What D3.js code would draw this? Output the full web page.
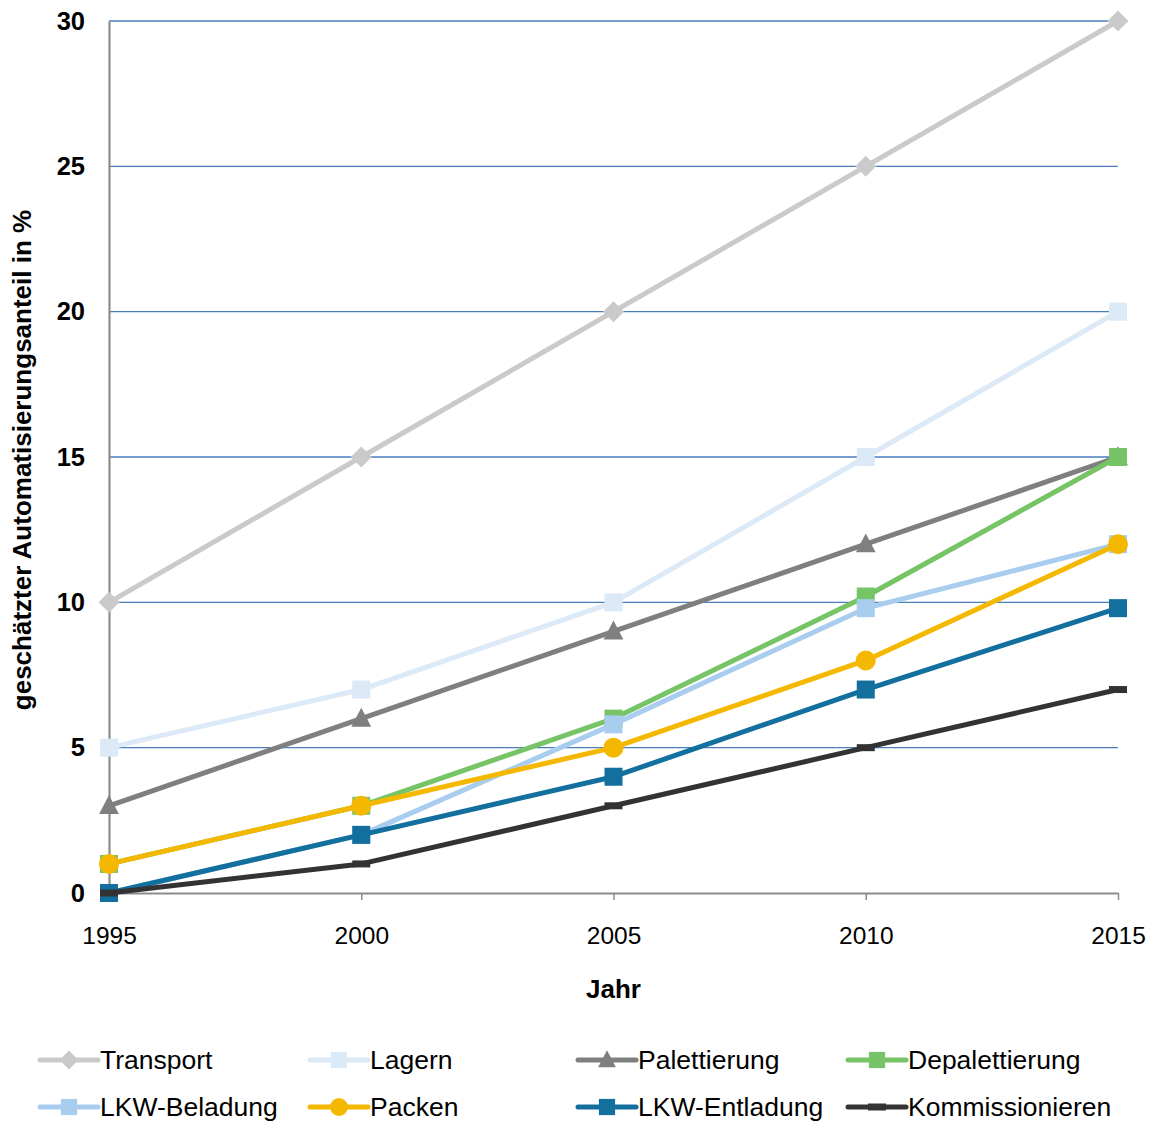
<!DOCTYPE html>
<html>
<head>
<meta charset="utf-8">
<script src="https://cdn.jsdelivr.net/npm/d3@7/dist/d3.min.js"></script>
<style>
  html, body { margin: 0; padding: 0; background: #fff; }
  svg { display: block; font-family: "Liberation Sans", Arial, sans-serif; }
</style>
</head>
<body>
<svg id="chart" width="1151" height="1121"></svg>
<script>
// Jahre (Kategorien der x-Achse)
const years = [1995, 2000, 2005, 2010, 2015];
const yTicks = [0, 5, 10, 15, 20, 25, 30];

// geschätzter Automatisierungsanteil in % je Bereich
const transport       = [10, 15, 20, 25, 30];
const lagern          = [5, 7, 10, 15, 20];
const palettierung    = [3, 6, 9, 12, 15];
const depalettierung  = [1, 3, 6, 10.2, 15];
const lkwBeladung     = [0, 2, 5.8, 9.8, 12];
const packen          = [1, 3, 5, 8, 12];
const lkwEntladung    = [0, 2, 4, 7, 9.8];
const kommissionieren = [0, 1, 3, 5, 7];

const seriesNames = ["Transport", "Lagern", "Palettierung", "Depalettierung",
                     "LKW-Beladung", "Packen", "LKW-Entladung", "Kommissionieren"];
const seriesValues = [transport, lagern, palettierung, depalettierung,
                      lkwBeladung, packen, lkwEntladung, kommissionieren];
const seriesColors = ["#cacaca", "#dce9f6", "#7f7f7f", "#76c466",
                      "#a9cdee", "#f5b800", "#13709e", "#333333"];
const seriesMarkers = ["diamond", "square", "triangle", "square",
                       "square", "circle", "square", "dash"];

const svg = d3.select("#chart");
const plotLeft = 109, plotRight = 1118, plotTop = 21, plotBottom = 893;

const x = d3.scalePoint().domain(years).range([plotLeft, plotRight]);
const y = d3.scaleLinear().domain([0, 30]).range([plotBottom, plotTop]);

// Gitterlinien
svg.append("g")
  .selectAll("line")
  .data(yTicks.filter(d => d > 0))
  .join("line")
  .attr("x1", plotLeft).attr("x2", plotRight)
  .attr("y1", d => y(d)).attr("y2", d => y(d))
  .attr("stroke", "#4a7ebb").attr("stroke-width", 1.3);

// y-Achse
const yAxis = svg.append("g")
  .attr("transform", `translate(${plotLeft},0)`)
  .call(d3.axisLeft(y).tickValues(yTicks).tickSize(0).tickPadding(24));
yAxis.select(".domain").attr("stroke", "#8c8c8c").attr("stroke-width", 2.2);
yAxis.selectAll("text")
  .attr("font-size", 25.5).attr("font-weight", "bold").attr("fill", "#000")
  .attr("font-family", "Liberation Sans, Arial, sans-serif");

// x-Achse
const xAxis = svg.append("g")
  .attr("transform", `translate(0,${plotBottom})`)
  .call(d3.axisBottom(x).tickSize(7).tickPadding(27).tickSizeOuter(0));
xAxis.select(".domain").attr("stroke", "#8c8c8c").attr("stroke-width", 2.2);
xAxis.selectAll(".tick line").attr("stroke", "#8c8c8c").attr("stroke-width", 1.5);
xAxis.selectAll("text")
  .attr("font-size", 24.5).attr("fill", "#000")
  .attr("font-family", "Liberation Sans, Arial, sans-serif");

// Achsentitel
svg.append("text")
  .attr("x", (plotLeft + plotRight) / 2).attr("y", 998)
  .attr("text-anchor", "middle")
  .attr("font-size", 26).attr("font-weight", "bold")
  .text("Jahr");

svg.append("text")
  .attr("transform", `translate(31,${(plotTop + plotBottom) / 2 + 3}) rotate(-90)`)
  .attr("text-anchor", "middle")
  .attr("font-size", 26).attr("font-weight", "bold")
  .text("geschätzter Automatisierungsanteil in %");

function drawMarker(g, type, cx, cy, color, scale = 1) {
  if (type === "diamond") {
    const r = 10.5 * scale;
    g.append("path")
      .attr("d", `M${cx},${cy - r}L${cx + r},${cy}L${cx},${cy + r}L${cx - r},${cy}Z`)
      .attr("fill", color);
  } else if (type === "square") {
    const s = 18 * scale;
    g.append("rect")
      .attr("x", cx - s / 2).attr("y", cy - s / 2)
      .attr("width", s).attr("height", s)
      .attr("fill", color);
  } else if (type === "triangle") {
    const h = 18 * scale;
    g.append("path")
      .attr("d", `M${cx},${cy - h * 0.6}L${cx + h * 0.55},${cy + h * 0.45}L${cx - h * 0.55},${cy + h * 0.45}Z`)
      .attr("fill", color);
  } else if (type === "circle") {
    g.append("circle")
      .attr("cx", cx).attr("cy", cy).attr("r", 10 * scale)
      .attr("fill", color);
  } else if (type === "dash") {
    g.append("rect")
      .attr("x", cx - 9).attr("y", cy - 3.5)
      .attr("width", 18).attr("height", 7)
      .attr("fill", color);
  }
}

const line = d3.line()
  .x((d, i) => x(years[i]))
  .y(d => y(d));

// Linien und Markierungen
seriesValues.forEach((vals, k) => {
  const g = svg.append("g");
  g.append("path")
    .datum(vals)
    .attr("d", line)
    .attr("fill", "none")
    .attr("stroke", seriesColors[k])
    .attr("stroke-width", 5)
    .attr("stroke-linejoin", "round");
  vals.forEach((v, i) => drawMarker(g, seriesMarkers[k], x(years[i]), y(v), seriesColors[k]));
});

// Legende
const legendCols = [40, 310, 578, 848];
const legendRows = [1060, 1107];
seriesNames.forEach((name, k) => {
  const lx = legendCols[k % 4];
  const ly = legendRows[Math.floor(k / 4)];
  const g = svg.append("g");
  g.append("line")
    .attr("x1", lx).attr("x2", lx + 58)
    .attr("y1", ly).attr("y2", ly)
    .attr("stroke", seriesColors[k]).attr("stroke-width", 5)
    .attr("stroke-linecap", "round");
  drawMarker(g, seriesMarkers[k], lx + 29, ly, seriesColors[k], 0.9);
  g.append("text")
    .attr("x", lx + 60).attr("y", ly + 9)
    .attr("font-size", 26.5).attr("fill", "#000")
    .text(name);
});
</script>
</body>
</html>
